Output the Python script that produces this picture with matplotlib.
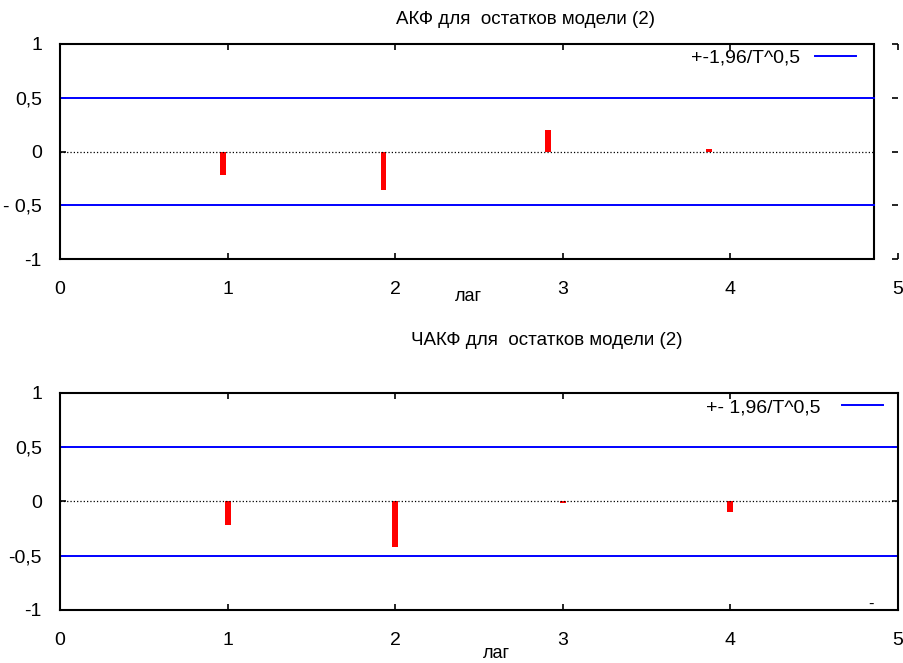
import matplotlib.pyplot as plt

plt.rcParams["font.family"] = ["Liberation Sans", "DejaVu Sans"]

# lag positions as they appear on the picture (upper plot is slightly shifted)
acf_lags = [0.97, 1.93, 2.91, 3.87]
acf_vals = [-0.22, -0.36, 0.20, 0.02]

pacf_lags = [1, 2, 3, 4]
pacf_vals = [-0.22, -0.42, -0.01, -0.10]

band = 0.5
x_ticks = [0, 1, 2, 3, 4, 5]
y_ticks = [-1, -0.5, 0, 0.5, 1]
acf_ylabels = ["-1", "- 0,5", "0", "0,5", "1"]
pacf_ylabels = ["-1", "-0,5", "0", "0,5", "1"]

fig = plt.figure(figsize=(9.04, 6.63), dpi=100)
ax1 = fig.add_axes([60 / 904, 1 - 259 / 663, 838 / 904, 215 / 663])
ax2 = fig.add_axes([60 / 904, 1 - 610 / 663, 838 / 904, 217 / 663])


def style(ax, ylabels):
    ax.set_xlim(0, 5)
    ax.set_ylim(-1, 1)
    ax.set_xticks(x_ticks)
    ax.set_xticklabels([str(t) for t in x_ticks])
    ax.set_yticks(y_ticks)
    ax.set_yticklabels(ylabels)
    ax.tick_params(direction="in", length=4, width=1.2, labelsize=14,
                   top=True, right=True)
    ax.tick_params(axis="x", pad=16)
    ax.tick_params(axis="y", pad=13)
    for s in ax.spines.values():
        s.set_linewidth(1.5)


# ACF
right_edge = 4.857
style(ax1, acf_ylabels)
ax1.spines["right"].set_visible(False)
ax1.spines["top"].set_bounds(0, right_edge)
ax1.spines["bottom"].set_bounds(0, right_edge)
ax1.axvline(right_edge, color="black", linewidth=1.5)
ax1.axhline(0, xmax=right_edge / 5, color="black", linestyle=":", linewidth=0.9)
ax1.axhline(band, xmax=right_edge / 5, color="#0000ff", linewidth=1.4)
ax1.axhline(-band, xmax=right_edge / 5, color="#0000ff", linewidth=1.4,
            label="+-1,96/T^0,5")
ax1.bar(acf_lags, acf_vals, width=0.035, color="red")
ax1.legend(loc="upper right", bbox_to_anchor=(0.95, 0.975), frameon=False,
           markerfirst=False, fontsize=14, borderpad=0, borderaxespad=0,
           handlelength=2.1, handletextpad=0.8)
ax1.set_xlabel("лаг", fontsize=13)
ax1.xaxis.set_label_coords(0.487, -0.135)

# PACF
style(ax2, pacf_ylabels)
ax2.axhline(0, color="black", linestyle=":", linewidth=0.9)
ax2.axhline(band, color="#0000ff", linewidth=1.4)
ax2.axhline(-band, color="#0000ff", linewidth=1.4, label="+- 1,96/T^0,5")
ax2.bar(pacf_lags, pacf_vals, width=0.035, color="red")
ax2.legend(loc="upper right", bbox_to_anchor=(0.982, 0.975), frameon=False,
           markerfirst=False, fontsize=14, borderpad=0, borderaxespad=0,
           handlelength=2.1, handletextpad=1.1)
ax2.text(4.84, -0.945, "-", fontsize=12, ha="center", va="center")
ax2.set_xlabel("лаг", fontsize=13)
ax2.xaxis.set_label_coords(0.521, -0.16)

fig.text(525 / 904, 1 - 20 / 663, "АКФ для  остатков модели (2)",
         fontsize=13.5, ha="center", va="center")
fig.text(547 / 904, 1 - 341 / 663, "ЧАКФ для  остатков модели (2)",
         fontsize=13.5, ha="center", va="center")

fig.savefig("out.png", dpi=100)
